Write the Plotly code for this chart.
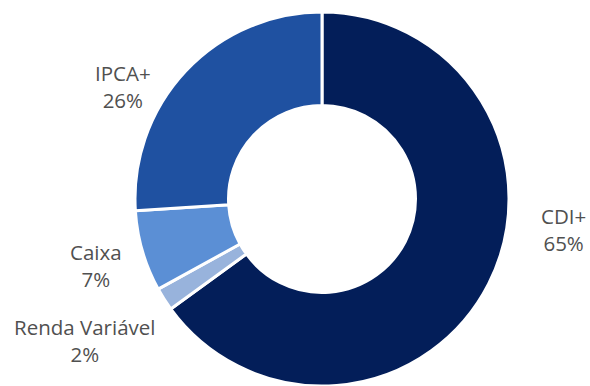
import plotly.graph_objects as go

labels = ["CDI+", "Renda Variável", "Caixa", "IPCA+"]
values = [65, 2, 7, 26]
colors = ["#031e59", "#98b3dc", "#5b8fd5", "#1f51a1"]

# label block centres (paper px) for the outside labels
label_pos = {"CDI+": (563, 229), "Renda Variável": (84, 340), "Caixa": (96, 265), "IPCA+": (123, 86)}

W, H = 590, 386
fig = go.Figure(go.Pie(
    labels=labels, values=values, sort=False, direction="clockwise", rotation=0,
    hole=0.5, textinfo="none", hoverinfo="label+percent",
    marker=dict(colors=colors, line=dict(color="white", width=3)),
    domain=dict(x=[135 / W, 509 / W], y=[0, 374 / H]),
))

total = sum(values)
for lab, v in zip(labels, values):
    x, y = label_pos[lab]
    fig.add_annotation(x=x / W, y=1 - y / H, xref="paper", yref="paper",
                       text=f"{lab}<br>{round(100 * v / total)}%", showarrow=False,
                       font=dict(family="Open Sans", size=20.5, color="#505050"),
                       xanchor="center", yanchor="middle", align="center")

fig.update_layout(width=W, height=H, margin=dict(l=0, r=0, t=0, b=0),
                  showlegend=False, paper_bgcolor="white", plot_bgcolor="white")
fig.write_html("out.html")
